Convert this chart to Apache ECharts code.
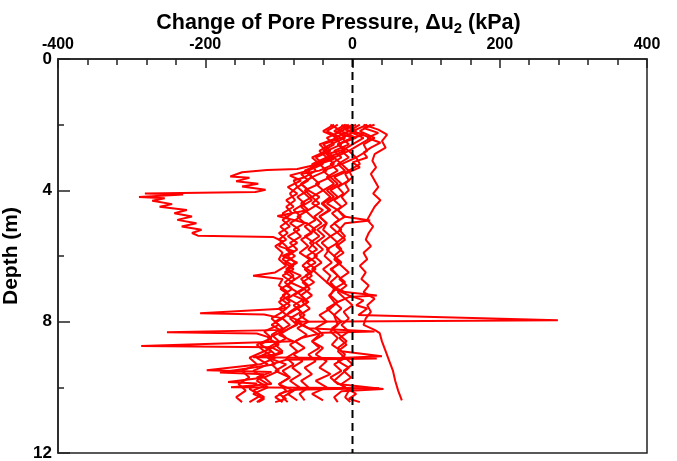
<!DOCTYPE html>
<html><head><meta charset="utf-8">
<script src="https://cdn.jsdelivr.net/npm/echarts@6/dist/echarts.min.js"></script>
<style>html,body{margin:0;padding:0;background:#fff}#c{width:677px;height:461px}</style>
</head><body><div id="c"></div>
<script>
// Tick labels
var xTicks = [-400, -200, 0, 200, 400];
var yTicks = [0, 4, 8, 12];
// Profiles: [Δu2 (kPa), depth (m)]
var p1 = [[5,2.0],[-10,2.15],[15,2.3],[-5,2.45],[-20,2.6],[-10,2.75],[-35,2.9],[-25,3.05],[-45,3.2],[-75,3.35],[-116,3.38],[-150,3.45],[-166,3.58],[-140,3.62],[-158,3.72],[-128,3.8],[-150,3.88],[-118,3.98],[-132,4.05],[-282,4.1],[-230,4.13],[-290,4.2],[-255,4.24],[-272,4.32],[-245,4.42],[-262,4.5],[-225,4.6],[-242,4.7],[-218,4.8],[-238,4.9],[-212,5.0],[-232,5.1],[-205,5.2],[-218,5.3],[-210,5.38],[-108,5.42],[-95,5.55],[-100,5.7],[-80,5.85],[-95,6.0],[-75,6.2],[-90,6.4],[-70,6.6],[-85,6.8],[-65,7.0],[-80,7.2],[-60,7.4],[-75,7.6],[-90,7.8],[-70,8.0],[-85,8.2],[-100,8.4],[-80,8.6],[-287,8.74],[-110,8.78],[-95,8.95],[-115,9.1],[-90,9.3],[-105,9.5],[-85,9.7],[-100,9.9],[-80,10.1],[-95,10.3],[-88,10.45]];
var p2 = [[20,2.0],[0,2.2],[25,2.4],[10,2.6],[-5,2.8],[5,3.0],[-15,3.2],[-5,3.4],[-25,3.6],[-15,3.8],[-30,4.0],[-20,4.2],[-35,4.4],[-20,4.6],[-10,4.8],[-25,5.0],[-15,5.2],[-30,5.4],[-20,5.6],[-35,5.8],[-25,6.0],[-15,6.2],[-30,6.4],[-20,6.6],[-10,6.8],[-25,7.0],[-5,7.2],[15,7.35],[5,7.5],[20,7.6],[8,7.8],[279,7.96],[-75,8.0],[-60,8.2],[-45,8.4],[-55,8.6],[-40,8.8],[-50,9.0],[-35,9.2],[-45,9.4],[-30,9.6],[-50,9.8],[-35,10.0],[-55,10.2],[-40,10.4]];
var p3 = [[15,2.0],[35,2.15],[47,2.3],[40,2.5],[45,2.7],[30,2.9],[27,3.1],[32,3.3],[25,3.5],[30,3.7],[35,3.9],[28,4.1],[38,4.3],[30,4.5],[25,4.7],[20,4.9],[28,5.1],[22,5.3],[18,5.5],[25,5.7],[15,5.9],[20,6.1],[10,6.3],[18,6.5],[12,6.7],[22,6.9],[15,7.1],[30,7.3],[20,7.5],[25,7.7],[18,7.9],[15,8.1],[30,8.25],[37,8.35],[40,8.6],[45,8.9],[50,9.2],[55,9.5],[58,9.8],[62,10.1],[67,10.4]];
var p4 = [[-20,2.0],[-35,2.2],[-15,2.4],[-40,2.6],[-30,2.8],[-50,3.0],[-40,3.2],[-60,3.4],[-55,3.6],[-70,3.8],[-60,4.0],[-75,4.2],[-65,4.4],[-80,4.6],[-70,4.8],[-85,5.0],[-72,5.2],[-88,5.4],[-75,5.6],[-90,5.8],[-78,6.0],[-92,6.2],[-80,6.4],[-95,6.6],[-82,6.8],[-98,7.0],[-85,7.2],[-100,7.4],[-90,7.6],[-207,7.74],[-120,7.78],[-95,7.9],[-110,8.1],[-95,8.3],[-115,8.5],[-100,8.7],[-120,8.9],[-105,9.1],[-125,9.3],[-198,9.48],[-110,9.53],[-130,9.7],[-115,9.9],[-135,10.1],[-120,10.3],[-130,10.45]];
var p5 = [[-10,2.0],[-25,2.2],[0,2.4],[-20,2.6],[-10,2.8],[-35,3.0],[-25,3.2],[-45,3.4],[-70,3.5],[-60,3.7],[-75,3.9],[-65,4.1],[-55,4.3],[-70,4.5],[-60,4.7],[-50,4.9],[-65,5.1],[-55,5.3],[-70,5.5],[-60,5.7],[-72,5.9],[-58,6.1],[-68,6.3],[-55,6.5],[-70,6.7],[-60,6.9],[-75,7.1],[-65,7.3],[-80,7.5],[-70,7.7],[-85,7.9],[-75,8.1],[-90,8.25],[-252,8.32],[-130,8.36],[-110,8.5],[-125,8.7],[-110,8.9],[-130,9.1],[-115,9.3],[-135,9.5],[-120,9.7],[-169,9.84],[-130,9.88],[-140,10.05],[-125,10.25],[-140,10.45]];
var p6 = [[25,2.0],[10,2.2],[30,2.4],[15,2.6],[20,2.8],[5,3.0],[10,3.2],[-5,3.4],[0,3.6],[-10,3.8],[-5,4.0],[-15,4.2],[-8,4.4],[-20,4.6],[-12,4.8],[24,4.92],[-10,5.0],[-18,5.2],[-10,5.4],[-22,5.6],[-15,5.8],[-25,6.0],[-18,6.2],[-28,6.4],[-20,6.6],[-30,6.8],[-22,7.0],[-32,7.2],[-25,7.4],[-15,7.6],[-25,7.8],[-20,8.1],[-30,8.3],[-20,8.5],[-28,8.7],[-15,8.9],[40,9.05],[-10,9.1],[-25,9.3],[-15,9.5],[-30,9.7],[-20,9.9],[42,10.05],[-15,10.12],[-25,10.3],[-20,10.45]];
var p7 = [[0,2.0],[-15,2.2],[5,2.4],[-20,2.6],[-5,2.8],[-25,3.0],[-15,3.2],[-40,3.4],[-30,3.6],[-50,3.8],[-40,4.0],[-55,4.2],[-45,4.4],[-60,4.6],[-102,4.78],[-62,5.0],[-50,5.2],[-65,5.4],[-52,5.6],[-60,5.8],[-48,6.0],[-62,6.2],[-50,6.4],[-64,6.6],[-52,6.8],[-66,7.0],[-55,7.2],[-68,7.4],[-58,7.6],[-72,7.8],[-60,8.0],[-75,8.2],[-62,8.4],[-78,8.6],[-65,8.8],[-80,9.0],[-68,9.2],[-82,9.4],[-70,9.6],[-85,9.8],[-72,10.0],[-88,10.2],[-75,10.4]];
var p8 = [[-5,2.0],[-20,2.2],[-10,2.4],[-30,2.6],[-45,2.8],[-35,3.0],[-55,3.2],[-50,3.4],[-65,3.6],[-80,3.7],[-75,3.9],[-85,4.1],[-78,4.3],[-90,4.5],[-82,4.7],[-95,4.9],[-85,5.1],[-100,5.3],[-90,5.5],[-105,5.7],[-95,5.9],[-100,6.1],[-90,6.3],[-105,6.5],[-135,6.6],[-95,6.7],[-100,6.9],[-88,7.1],[-98,7.3],[-85,7.5],[-95,7.7],[-110,7.9],[-100,8.1],[-120,8.3],[-110,8.5],[-130,8.7],[-120,8.9],[-140,9.1],[-130,9.3],[-150,9.5],[-140,9.7],[-155,9.9],[-145,10.1],[-158,10.3],[-150,10.45]];
var p9 = [[30,2.0],[15,2.1],[35,2.25],[20,2.4],[38,2.55],[25,2.7],[15,2.85],[20,3.0],[0,3.15],[10,3.3],[-10,3.5],[-5,3.7],[-20,3.9],[-12,4.1],[-25,4.3],[-15,4.5],[-28,4.7],[-18,4.9],[-30,5.1],[-20,5.3],[-10,5.5],[-22,5.7],[-12,5.9],[-25,6.1],[-15,6.3],[-5,6.5],[-18,6.7],[-8,6.9],[-20,7.1],[-10,7.3],[0,7.5],[-12,7.7],[-5,7.9],[-15,8.1],[-5,8.3],[-18,8.5],[-8,8.7],[-20,8.9],[-10,9.1],[0,9.3],[-12,9.5],[-2,9.7],[-15,9.9],[-5,10.1],[-10,10.3],[-3,10.45]];
var p10 = [[-15,2.0],[-5,2.2],[-25,2.4],[-15,2.6],[-35,2.8],[-25,3.0],[-45,3.2],[-35,3.4],[-55,3.6],[-45,3.8],[-65,4.0],[-55,4.2],[-70,4.4],[-60,4.6],[-75,4.8],[-65,5.0],[-80,5.2],[-70,5.4],[-85,5.6],[-75,5.8],[-88,6.0],[-78,6.2],[-90,6.4],[-80,6.6],[-92,6.8],[-82,7.0],[-95,7.2],[-85,7.4],[-100,7.6],[-90,7.8],[-105,8.0],[-95,8.2],[-110,8.4],[-100,8.6],[-115,8.8],[-105,9.0],[-135,9.08],[33,9.12],[-90,9.16],[-110,9.3],[-100,9.5],[-120,9.7],[-110,9.9],[-165,10.0],[36,10.03],[-80,10.07],[-100,10.2],[-90,10.35],[-105,10.45]];
var p11 = [[10,2.0],[-5,2.2],[15,2.4],[0,2.6],[-15,2.8],[-5,3.0],[-20,3.2],[-10,3.4],[-30,3.6],[-20,3.8],[-35,4.0],[-25,4.2],[-40,4.4],[-30,4.6],[-45,4.8],[-35,5.0],[-48,5.2],[-38,5.4],[-50,5.6],[-40,5.8],[-52,6.0],[-42,6.2],[-55,6.4],[-45,6.6],[-35,6.8],[-20,7.0],[-10,7.1],[33,7.2],[-5,7.25],[-20,7.4],[-30,7.6],[-45,7.8],[-35,8.0],[-50,8.2],[-40,8.4],[-55,8.6],[-45,8.8],[-60,9.0],[-50,9.2],[-65,9.4],[-55,9.6],[-70,9.8],[-60,10.0],[-72,10.2],[-65,10.4]];
var p12 = [[-30,2.0],[-15,2.2],[-35,2.4],[-25,2.6],[-40,2.8],[-30,3.0],[-50,3.2],[-60,3.4],[-85,3.55],[-70,3.7],[-88,3.9],[-75,4.1],[-90,4.3],[-80,4.5],[-95,4.7],[-85,4.9],[-98,5.1],[-88,5.3],[-100,5.5],[-90,5.7],[-85,5.9],[-95,6.1],[-80,6.3],[-92,6.5],[-78,6.7],[-90,6.9],[-75,7.1],[-88,7.3],[-72,7.5],[-85,7.7],[-95,7.9],[-85,8.1],[-100,8.3],[-90,8.5],[-105,8.7],[-95,8.9],[-115,9.1],[-105,9.3],[-180,9.55],[-120,9.6],[-130,9.8],[-115,10.0],[-135,10.2],[-120,10.35],[-128,10.45]];
var p13 = [[-10,2.0],[5,2.2],[-15,2.4],[-5,2.6],[-25,2.8],[-15,3.0],[-30,3.2],[-20,3.4],[-35,3.6],[-25,3.8],[-40,4.0],[-30,4.2],[-42,4.4],[-32,4.6],[-45,4.8],[-35,5.0],[-40,5.2],[-30,5.4],[-42,5.6],[-32,5.8],[-38,6.0],[-28,6.2],[-40,6.4],[-30,6.6],[-35,6.8],[-25,7.0],[-30,7.2],[-20,7.4],[-35,7.6],[-25,7.8],[-15,8.0],[-28,8.2],[-18,8.4],[-8,8.6],[-20,8.8],[-10,9.0],[-20,9.2],[-5,9.4],[-15,9.6],[-25,9.8],[-10,10.0],[5,10.2],[-5,10.35],[10,10.45]];
var p14 = [[-25,2.0],[-40,2.2],[-20,2.4],[-45,2.6],[-35,2.8],[-55,3.0],[-45,3.2],[-65,3.4],[-55,3.6],[-70,3.8],[-60,4.0],[-45,4.2],[-55,4.4],[-40,4.6],[-52,4.8],[-42,5.0],[-55,5.2],[-45,5.4],[-58,5.6],[-48,5.8],[-62,6.0],[-50,6.2],[-65,6.4],[-55,6.6],[-68,6.8],[-58,7.0],[-70,7.2],[-60,7.4],[-75,7.6],[-65,7.8],[-78,8.0],[-60,8.2],[30,8.3],[-40,8.34],[-70,8.5],[-85,8.7],[-75,8.9],[-90,9.1],[-80,9.3],[-95,9.5],[-85,9.7],[-100,9.9],[-90,10.1],[-105,10.3],[-95,10.45]];
var zeroLine = [[0,0],[0,12]];
var profiles = [p1,p2,p3,p4,p5,p6,p7,p8,p9,p10,p11,p12,p13,p14];

var FONT = 'Liberation Sans, Arial, sans-serif';
var series = profiles.map(function(p){
  return {type:'line', data:p, showSymbol:false, symbol:'none', animation:false,
    lineStyle:{color:'#ff0000', width:2}, z:2};
});
series.push({type:'line', data:zeroLine, showSymbol:false, symbol:'none', animation:false,
  lineStyle:{color:'#000', width:2, type:[8,5]}, z:3});

var chart = echarts.init(document.getElementById('c'), null, {renderer:'canvas'});
chart.setOption({
  backgroundColor:'#fff',
  animation:false,
  title:{
    text:'{a|Change of Pore Pressure, Δu}{b|2}{a| (kPa)}',
    left:'center', top:5,
    textStyle:{rich:{
      a:{fontFamily:FONT, fontWeight:'bold', fontSize:21.5, color:'#000'},
      b:{fontFamily:FONT, fontWeight:'bold', fontSize:15, color:'#000', padding:[11,0,0,0]}
    }}
  },
  grid:{left:58, right:30, top:59, bottom:8, outerBoundsMode:'none', containLabel:false,
    show:true, borderColor:'#222', borderWidth:1.5, backgroundColor:'transparent'},
  xAxis:{
    type:'value', position:'top', min:-400, max:400, interval:200,
    axisLine:{show:true, onZero:false, lineStyle:{color:'#222', width:1.5}},
    axisTick:{show:true, inside:true, length:9, lineStyle:{color:'#222', width:1.5}},
    minorTick:{show:true, splitNumber:5, length:6, lineStyle:{color:'#222', width:1.5}},
    splitLine:{show:false},
    axisLabel:{fontFamily:FONT, fontWeight:'bold', fontSize:16, color:'#000', margin:6,
      formatter:function(v){return xTicks.indexOf(v)>=0 ? String(v) : '';}}
  },
  yAxis:{
    type:'value', inverse:true, min:0, max:12, interval:4,
    name:'Depth (m)', nameLocation:'middle', nameGap:25, nameRotate:90,
    nameTextStyle:{fontFamily:FONT, fontWeight:'bold', fontSize:21, color:'#000'},
    axisLine:{show:true, onZero:false, lineStyle:{color:'#222', width:1.5}},
    axisTick:{show:true, inside:true, length:12, lineStyle:{color:'#222', width:1.5}},
    minorTick:{show:true, splitNumber:2, length:6, lineStyle:{color:'#222', width:1.5}},
    splitLine:{show:false},
    axisLabel:{fontFamily:FONT, fontWeight:'bold', fontSize:17, color:'#000', margin:6,
      formatter:function(v){return yTicks.indexOf(v)>=0 ? String(v) : '';}}
  },
  series:series
});
</script></body></html>
